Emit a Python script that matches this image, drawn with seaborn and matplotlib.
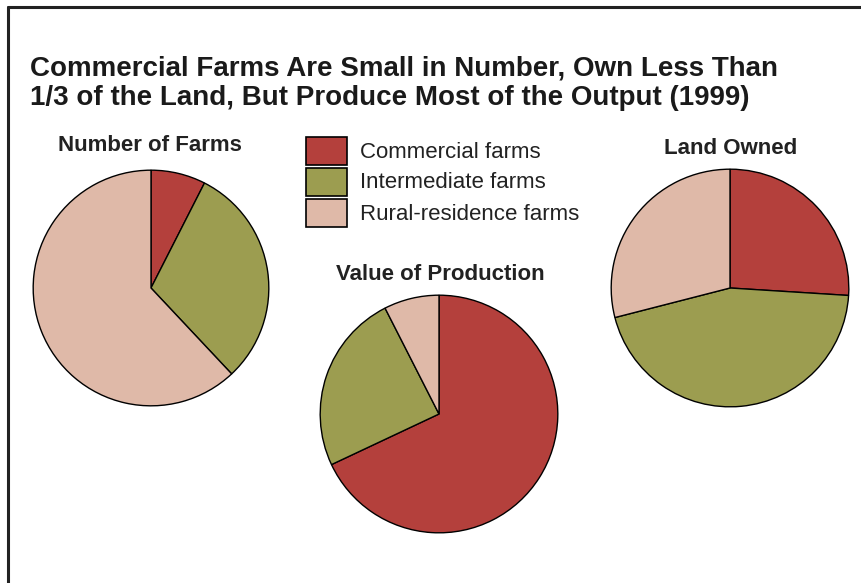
import matplotlib
matplotlib.use("Agg")
import matplotlib.pyplot as plt
import seaborn as sns
from matplotlib.patches import Rectangle
from matplotlib.lines import Line2D

sns.set_theme(style="white")
plt.rcParams['font.family'] = ['Liberation Sans', 'DejaVu Sans']

# ---- data ----
categories = ["Commercial farms", "Intermediate farms", "Rural-residence farms"]
number_of_farms = [7.5, 30.5, 62.0]
value_of_production = [68.0, 24.5, 7.5]
land_owned = [26.0, 45.0, 29.0]
panel_titles = ["Number of Farms", "Value of Production", "Land Owned"]
title_lines = ["Commercial Farms Are Small in Number, Own Less Than",
               "1/3 of the Land, But Produce Most of the Output (1999)"]

colors = sns.color_palette(["#b4403c", "#9c9d50", "#dfb9a8"])

W, H = 861, 583
fig = plt.figure(figsize=(W / 100, H / 100), dpi=100)
fig.patch.set_facecolor("white")

# frame lines (top and left)
fig.add_artist(Line2D([8 / W, 1], [1 - 7 / H, 1 - 7 / H], color="#222222", lw=2.2,
                      transform=fig.transFigure))
fig.add_artist(Line2D([8 / W, 8 / W], [0, 1 - 7 / H], color="#222222", lw=2.2,
                      transform=fig.transFigure))

for line, base in zip(title_lines, [75, 105]):
    fig.text(30 / W, 1 - base / H, line, ha="left", va="baseline", color="#1a1a1a",
             fontsize=20, fontweight="bold")


def pie_axes(cx, cy, r):
    return fig.add_axes([(cx - r) / W, 1 - (cy + r) / H, 2 * r / W, 2 * r / H])


panels = [
    (number_of_farms, (151, 288, 119), (150, 146)),
    (value_of_production, (439, 414, 120), (440, 275)),
    (land_owned, (730, 288, 120), (731, 148)),
]
for (vals, (cx, cy, r), (tx, ty)), name in zip(panels, panel_titles):
    ax = pie_axes(cx, cy, r)
    ax.pie(vals, colors=colors, startangle=90, counterclock=False, radius=1,
           wedgeprops=dict(edgecolor="black", linewidth=1.0))
    ax.set_xlim(-1.01, 1.01)
    ax.set_ylim(-1.01, 1.01)
    ax.set_aspect("equal")
    ax.axis("off")
    fig.text(tx / W, 1 - ty / H, name, ha="center", va="center", fontsize=16,
             fontweight="bold", color="#222222")

# legend
for i, (lab, col) in enumerate(zip(categories, colors)):
    y0 = 137 + i * 31
    fig.add_artist(Rectangle((306 / W, 1 - (y0 + 28) / H), 41 / W, 28 / H,
                             facecolor=col, edgecolor="black", lw=1.2,
                             transform=fig.transFigure))
    fig.text(360 / W, 1 - (y0 + 15) / H, lab, ha="left", va="center",
             fontsize=16, color="#222222")

fig.savefig("out.png", dpi=100)
